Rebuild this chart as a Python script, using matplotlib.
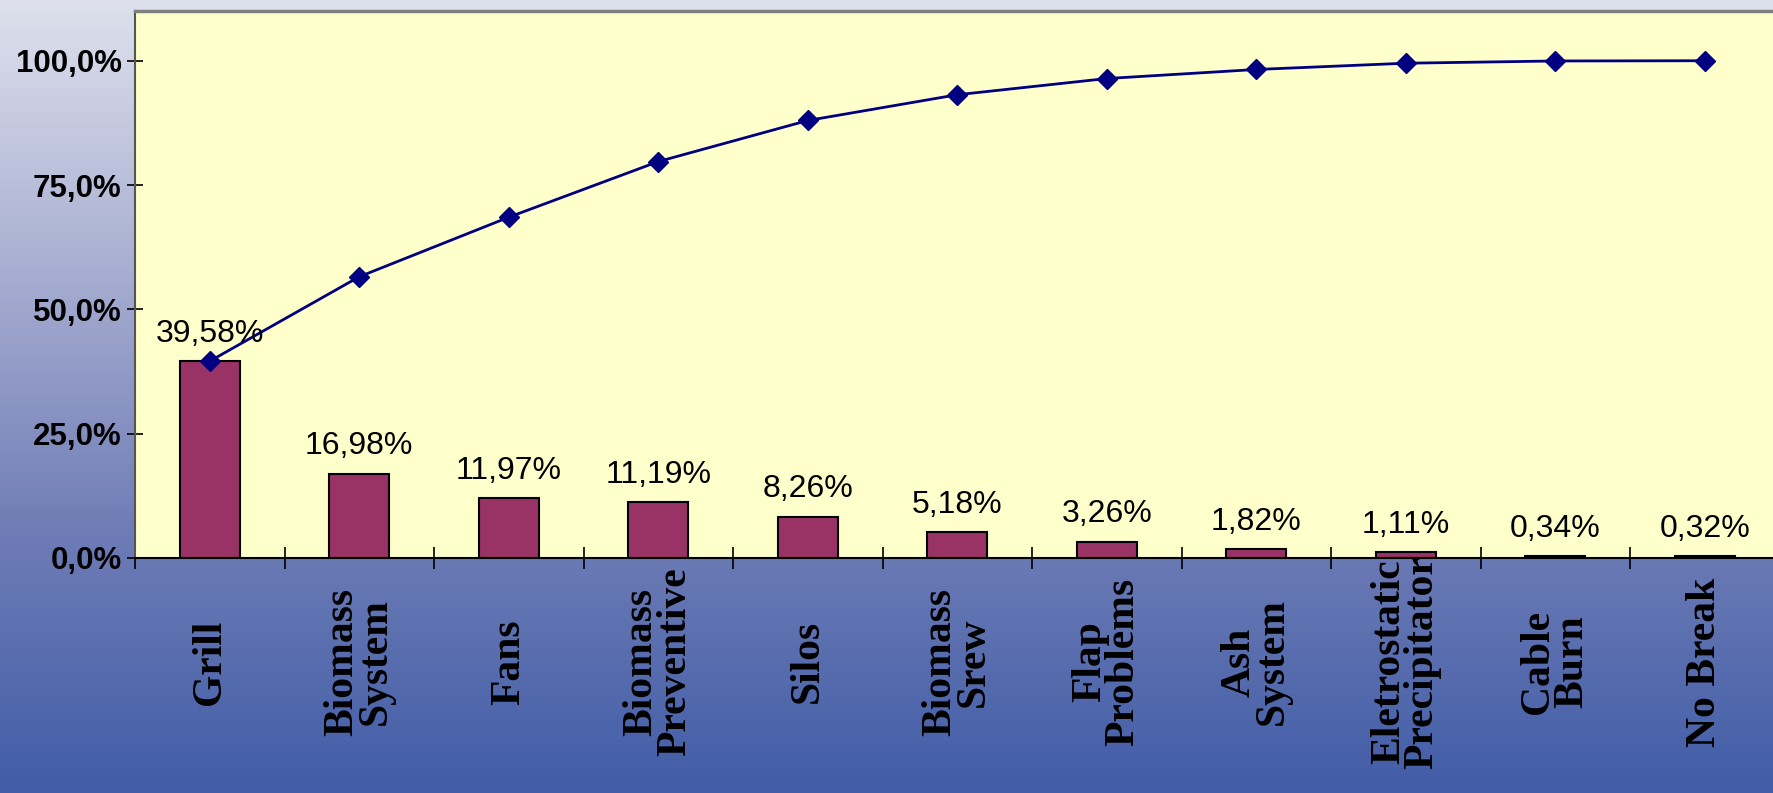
import numpy as np
import matplotlib.pyplot as plt
from matplotlib.colors import LinearSegmentedColormap

# Pareto of breakdown causes
categories = ["Grill", "Biomass\nSystem", "Fans", "Biomass\nPreventive", "Silos",
              "Biomass\nSrew", "Flap\nProblems", "Ash\nSystem",
              "Eletrostatic\nPrecipitator", "Cable\nBurn", "No Break"]
share = [39.58, 16.98, 11.97, 11.19, 8.26, 5.18, 3.26, 1.82, 1.11, 0.34, 0.32]
share_labels = ["39,58%", "16,98%", "11,97%", "11,19%", "8,26%", "5,18%",
                "3,26%", "1,82%", "1,11%", "0,34%", "0,32%"]
cumulative = [39.58, 56.56, 68.53, 79.72, 87.98, 93.16, 96.42, 98.24, 99.5, 99.95, 100.0]
y_ticks = [0, 25, 50, 75, 100]
y_tick_labels = ["0,0%", "25,0%", "50,0%", "75,0%", "100,0%"]

W, H = 1773, 793
fig = plt.figure(figsize=(W / 100, H / 100), dpi=100)

# gradient background
bg = fig.add_axes([0, 0, 1, 1], zorder=-10)
cmap = LinearSegmentedColormap.from_list("bg", ["#DEE1ED", "#A9AFD2", "#6F7DB6", "#415DA7"])
bg.imshow(np.linspace(0, 1, 256).reshape(-1, 1), aspect="auto", cmap=cmap,
          extent=[0, 1, 0, 1])
bg.axis("off")

# plot area
left, bottom, top = 135 / W, 1 - 558 / H, 1 - 11 / H
width = 11 * 149.5 / W
ax = fig.add_axes([left, bottom, width, top - bottom])
ax.set_facecolor("#FFFFCC")

x = np.arange(len(categories))
ax.bar(x, share, width=0.4, color="#993366", edgecolor="black", linewidth=1.5, zorder=2)
ax.plot(x, cumulative, color="#000080", linewidth=2, marker="D", markersize=10,
        zorder=3)

for xi, v, lab in zip(x, share, share_labels):
    ax.annotate(lab, (xi, v), xytext=(0, 14), textcoords="offset points",
                ha="center", va="baseline", fontsize=23, family="Liberation Sans")

ax.set_xlim(-0.5, len(categories) - 0.5)
ax.set_ylim(0, 110)
ax.set_yticks(y_ticks)
ax.set_yticklabels(y_tick_labels, fontsize=22.5, fontweight="bold", family="Liberation Sans")
ax.tick_params(axis="y", direction="inout", length=11, width=1.2, pad=4)

ax.set_xticks(x)
ax.set_xticklabels([])
ax.tick_params(axis="x", which="major", length=0)
ax.set_xticks(np.arange(-0.5, len(categories) - 1, 1), minor=True)
ax.tick_params(axis="x", which="minor", direction="inout", length=16, width=1.2)

for xi, lab in zip(x, categories):
    ax.text(xi, -0.19, lab, transform=ax.get_xaxis_transform(), rotation=90,
            ha="center", va="center", multialignment="center", linespacing=0.85,
            fontsize=30, fontweight="bold", family="Liberation Serif")

ax.spines["top"].set_color("#808080")
ax.spines["top"].set_linewidth(2.5)
ax.spines["left"].set_color("#555555")
ax.spines["left"].set_linewidth(1.5)
ax.spines["right"].set_visible(False)
ax.spines["bottom"].set_color("black")
ax.spines["bottom"].set_linewidth(1.5)

fig.savefig("out.png", dpi=100)
